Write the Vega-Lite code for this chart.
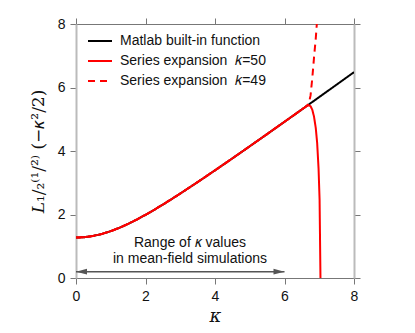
{
  "$schema": "https://vega.github.io/schema/vega-lite/v6.json",
  "width": 278,
  "height": 254,
  "autosize": {"type": "none"},
  "padding": {"left": 76, "top": 24, "right": 61, "bottom": 55},
  "background": "white",
  "config": {
    "view": {"stroke": null},
    "font": "Liberation Sans",
    "axis": {
      "labelFont": "Liberation Sans",
      "labelFontSize": 14,
      "labelColor": "#111",
      "tickColor": "#777",
      "tickSize": 6,
      "tickWidth": 1,
      "grid": false,
      "labelFlush": false
    },
    "axisX": {"domainColor": "#777", "domainWidth": 1},
    "axisY": {"domainColor": "#bbb", "domainWidth": 2},
    "legend": {
      "orient": "none",
      "legendX": 11,
      "legendY": 4,
      "symbolType": "stroke",
      "symbolSize": 576,
      "symbolStrokeWidth": 2,
      "labelFont": "Liberation Sans",
      "labelFontSize": 14,
      "labelColor": "#111",
      "labelOffset": 7,
      "labelLimit": 300,
      "rowPadding": 0,
      "padding": 0
    }
  },
  "datasets": {
    "curves": [
      {"kappa": 0, "value": 1.2732, "series": "Matlab built-in function"},
      {"kappa": 0.25, "value": 1.2865, "series": "Matlab built-in function"},
      {"kappa": 0.5, "value": 1.3256, "series": "Matlab built-in function"},
      {"kappa": 0.75, "value": 1.3894, "series": "Matlab built-in function"},
      {"kappa": 1, "value": 1.4755, "series": "Matlab built-in function"},
      {"kappa": 1.25, "value": 1.5815, "series": "Matlab built-in function"},
      {"kappa": 1.5, "value": 1.7045, "series": "Matlab built-in function"},
      {"kappa": 1.75, "value": 1.8415, "series": "Matlab built-in function"},
      {"kappa": 2, "value": 1.9901, "series": "Matlab built-in function"},
      {"kappa": 2.25, "value": 2.148, "series": "Matlab built-in function"},
      {"kappa": 2.5, "value": 2.3131, "series": "Matlab built-in function"},
      {"kappa": 2.75, "value": 2.4843, "series": "Matlab built-in function"},
      {"kappa": 3, "value": 2.6595, "series": "Matlab built-in function"},
      {"kappa": 3.5, "value": 3.0206, "series": "Matlab built-in function"},
      {"kappa": 4, "value": 3.391, "series": "Matlab built-in function"},
      {"kappa": 4.5, "value": 3.7678, "series": "Matlab built-in function"},
      {"kappa": 5, "value": 4.149, "series": "Matlab built-in function"},
      {"kappa": 5.5, "value": 4.5334, "series": "Matlab built-in function"},
      {"kappa": 6, "value": 4.9203, "series": "Matlab built-in function"},
      {"kappa": 6.5, "value": 5.309, "series": "Matlab built-in function"},
      {"kappa": 7, "value": 5.6992, "series": "Matlab built-in function"},
      {"kappa": 7.5, "value": 6.0905, "series": "Matlab built-in function"},
      {"kappa": 8, "value": 6.4828, "series": "Matlab built-in function"},

      {"kappa": 0, "value": 1.2732, "series": "Series expansion\u00a0\u00a0𝑘=50"},
      {"kappa": 0.25, "value": 1.2865, "series": "Series expansion\u00a0\u00a0𝑘=50"},
      {"kappa": 0.5, "value": 1.3256, "series": "Series expansion\u00a0\u00a0𝑘=50"},
      {"kappa": 0.75, "value": 1.3894, "series": "Series expansion\u00a0\u00a0𝑘=50"},
      {"kappa": 1, "value": 1.4755, "series": "Series expansion\u00a0\u00a0𝑘=50"},
      {"kappa": 1.25, "value": 1.5815, "series": "Series expansion\u00a0\u00a0𝑘=50"},
      {"kappa": 1.5, "value": 1.7045, "series": "Series expansion\u00a0\u00a0𝑘=50"},
      {"kappa": 1.75, "value": 1.8415, "series": "Series expansion\u00a0\u00a0𝑘=50"},
      {"kappa": 2, "value": 1.9901, "series": "Series expansion\u00a0\u00a0𝑘=50"},
      {"kappa": 2.25, "value": 2.148, "series": "Series expansion\u00a0\u00a0𝑘=50"},
      {"kappa": 2.5, "value": 2.3131, "series": "Series expansion\u00a0\u00a0𝑘=50"},
      {"kappa": 2.75, "value": 2.4843, "series": "Series expansion\u00a0\u00a0𝑘=50"},
      {"kappa": 3, "value": 2.6595, "series": "Series expansion\u00a0\u00a0𝑘=50"},
      {"kappa": 3.5, "value": 3.0206, "series": "Series expansion\u00a0\u00a0𝑘=50"},
      {"kappa": 4, "value": 3.391, "series": "Series expansion\u00a0\u00a0𝑘=50"},
      {"kappa": 4.5, "value": 3.7678, "series": "Series expansion\u00a0\u00a0𝑘=50"},
      {"kappa": 5, "value": 4.149, "series": "Series expansion\u00a0\u00a0𝑘=50"},
      {"kappa": 5.5, "value": 4.5334, "series": "Series expansion\u00a0\u00a0𝑘=50"},
      {"kappa": 6, "value": 4.9203, "series": "Series expansion\u00a0\u00a0𝑘=50"},
      {"kappa": 6.5, "value": 5.309, "series": "Series expansion\u00a0\u00a0𝑘=50"},
      {"kappa": 6.6, "value": 5.387, "series": "Series expansion\u00a0\u00a0𝑘=50"},
      {"kappa": 6.65, "value": 5.43, "series": "Series expansion\u00a0\u00a0𝑘=50"},
      {"kappa": 6.7, "value": 5.44, "series": "Series expansion\u00a0\u00a0𝑘=50"},
      {"kappa": 6.75, "value": 5.41, "series": "Series expansion\u00a0\u00a0𝑘=50"},
      {"kappa": 6.8, "value": 5.3, "series": "Series expansion\u00a0\u00a0𝑘=50"},
      {"kappa": 6.85, "value": 5.08, "series": "Series expansion\u00a0\u00a0𝑘=50"},
      {"kappa": 6.9, "value": 4.72, "series": "Series expansion\u00a0\u00a0𝑘=50"},
      {"kappa": 6.94, "value": 4.25, "series": "Series expansion\u00a0\u00a0𝑘=50"},
      {"kappa": 6.98, "value": 3.45, "series": "Series expansion\u00a0\u00a0𝑘=50"},
      {"kappa": 7.01, "value": 2.45, "series": "Series expansion\u00a0\u00a0𝑘=50"},
      {"kappa": 7.035, "value": 0, "series": "Series expansion\u00a0\u00a0𝑘=50"},

      {"kappa": 0, "value": 1.2732, "series": "Series expansion\u00a0\u00a0𝑘=49"},
      {"kappa": 0.25, "value": 1.2865, "series": "Series expansion\u00a0\u00a0𝑘=49"},
      {"kappa": 0.5, "value": 1.3256, "series": "Series expansion\u00a0\u00a0𝑘=49"},
      {"kappa": 0.75, "value": 1.3894, "series": "Series expansion\u00a0\u00a0𝑘=49"},
      {"kappa": 1, "value": 1.4755, "series": "Series expansion\u00a0\u00a0𝑘=49"},
      {"kappa": 1.25, "value": 1.5815, "series": "Series expansion\u00a0\u00a0𝑘=49"},
      {"kappa": 1.5, "value": 1.7045, "series": "Series expansion\u00a0\u00a0𝑘=49"},
      {"kappa": 1.75, "value": 1.8415, "series": "Series expansion\u00a0\u00a0𝑘=49"},
      {"kappa": 2, "value": 1.9901, "series": "Series expansion\u00a0\u00a0𝑘=49"},
      {"kappa": 2.25, "value": 2.148, "series": "Series expansion\u00a0\u00a0𝑘=49"},
      {"kappa": 2.5, "value": 2.3131, "series": "Series expansion\u00a0\u00a0𝑘=49"},
      {"kappa": 2.75, "value": 2.4843, "series": "Series expansion\u00a0\u00a0𝑘=49"},
      {"kappa": 3, "value": 2.6595, "series": "Series expansion\u00a0\u00a0𝑘=49"},
      {"kappa": 3.5, "value": 3.0206, "series": "Series expansion\u00a0\u00a0𝑘=49"},
      {"kappa": 4, "value": 3.391, "series": "Series expansion\u00a0\u00a0𝑘=49"},
      {"kappa": 4.5, "value": 3.7678, "series": "Series expansion\u00a0\u00a0𝑘=49"},
      {"kappa": 5, "value": 4.149, "series": "Series expansion\u00a0\u00a0𝑘=49"},
      {"kappa": 5.5, "value": 4.5334, "series": "Series expansion\u00a0\u00a0𝑘=49"},
      {"kappa": 6, "value": 4.9203, "series": "Series expansion\u00a0\u00a0𝑘=49"},
      {"kappa": 6.5, "value": 5.309, "series": "Series expansion\u00a0\u00a0𝑘=49"},
      {"kappa": 6.6, "value": 5.387, "series": "Series expansion\u00a0\u00a0𝑘=49"},
      {"kappa": 6.65, "value": 5.43, "series": "Series expansion\u00a0\u00a0𝑘=49"},
      {"kappa": 6.7, "value": 5.5, "series": "Series expansion\u00a0\u00a0𝑘=49"},
      {"kappa": 6.75, "value": 5.75, "series": "Series expansion\u00a0\u00a0𝑘=49"},
      {"kappa": 6.8, "value": 6.3, "series": "Series expansion\u00a0\u00a0𝑘=49"},
      {"kappa": 6.85, "value": 6.95, "series": "Series expansion\u00a0\u00a0𝑘=49"},
      {"kappa": 6.9, "value": 7.55, "series": "Series expansion\u00a0\u00a0𝑘=49"},
      {"kappa": 6.93, "value": 8.0, "series": "Series expansion\u00a0\u00a0𝑘=49"}
    ],
    "notes": [
      {"kappa": 3.28, "value": 0.98, "text": "Range of 𝜅 values"},
      {"kappa": 3.28, "value": 0.46, "text": "in mean-field simulations"}
    ],
    "arrow": [
      {"start": 0, "end": 6, "value": 0.2}
    ],
    "heads": [
      {"kappa": 0, "value": 0.2, "dir": "left"},
      {"kappa": 6, "value": 0.2, "dir": "right"}
    ]
  },
  "encoding": {
    "x": {"field": "kappa", "type": "quantitative", "scale": {"domain": [0, 8], "nice": false, "zero": false}},
    "y": {"field": "value", "type": "quantitative", "scale": {"domain": [0, 8], "nice": false, "zero": false}}
  },
  "layer": [
    {
      "data": {"name": "curves"},
      "transform": [{"filter": "datum.series === 'Matlab built-in function'"}],
      "mark": {"type": "line", "strokeWidth": 2, "clip": true},
      "encoding": {
        "x": {"field": "kappa", "type": "quantitative", "axis": {"orient": "bottom", "values": [0, 2, 4, 6, 8], "title": "κ", "titleFont": "DejaVu Serif", "titleFontStyle": "italic", "titleFontWeight": "normal", "titleFontSize": 18, "titleColor": "#111", "titlePadding": 4, "labelPadding": 5}},
        "y": {"field": "value", "type": "quantitative", "axis": {"orient": "left", "values": [0, 2, 4, 6, 8], "title": "𝐿₁/₂⁽¹/²⁾ (−𝜅²/2)", "titleFont": "DejaVu Serif", "titleFontWeight": "normal", "titleFontSize": 17, "titleColor": "#111", "titlePadding": 10, "labelPadding": 5}},
        "color": {"field": "series", "type": "nominal", "scale": {"domain": ["Matlab built-in function", "Series expansion\u00a0\u00a0𝑘=50", "Series expansion\u00a0\u00a0𝑘=49"], "range": ["#000000", "#ff0000", "#ff0000"]}, "legend": {"title": null}},
        "strokeDash": {"field": "series", "type": "nominal", "scale": {"domain": ["Matlab built-in function", "Series expansion\u00a0\u00a0𝑘=50", "Series expansion\u00a0\u00a0𝑘=49"], "range": [[1, 0], [1, 0], [7, 5]]}, "legend": {"title": null}}
      }
    },
    {
      "data": {"name": "curves"},
      "transform": [{"filter": "datum.series === 'Series expansion\u00a0\u00a0𝑘=49'"}],
      "mark": {"type": "line", "strokeWidth": 2, "clip": true},
      "encoding": {
        "x": {"field": "kappa", "type": "quantitative", "axis": {"orient": "top", "values": [0, 2, 4, 6, 8], "labels": false, "title": null}},
        "y": {"field": "value", "type": "quantitative", "axis": {"orient": "right", "values": [0, 2, 4, 6, 8], "labels": false, "title": null}},
        "color": {"field": "series", "type": "nominal", "scale": {"domain": ["Matlab built-in function", "Series expansion\u00a0\u00a0𝑘=50", "Series expansion\u00a0\u00a0𝑘=49"], "range": ["#000000", "#ff0000", "#ff0000"]}, "legend": {"title": null}},
        "strokeDash": {"field": "series", "type": "nominal", "scale": {"domain": ["Matlab built-in function", "Series expansion\u00a0\u00a0𝑘=50", "Series expansion\u00a0\u00a0𝑘=49"], "range": [[1, 0], [1, 0], [7, 5]]}, "legend": {"title": null}}
      }
    },
    {
      "data": {"name": "curves"},
      "transform": [{"filter": "datum.series === 'Series expansion\u00a0\u00a0𝑘=50'"}],
      "mark": {"type": "line", "strokeWidth": 2, "clip": true},
      "encoding": {
        "x": {"field": "kappa", "type": "quantitative", "axis": null},
        "y": {"field": "value", "type": "quantitative", "axis": null},
        "color": {"field": "series", "type": "nominal", "scale": {"domain": ["Matlab built-in function", "Series expansion\u00a0\u00a0𝑘=50", "Series expansion\u00a0\u00a0𝑘=49"], "range": ["#000000", "#ff0000", "#ff0000"]}, "legend": {"title": null}},
        "strokeDash": {"field": "series", "type": "nominal", "scale": {"domain": ["Matlab built-in function", "Series expansion\u00a0\u00a0𝑘=50", "Series expansion\u00a0\u00a0𝑘=49"], "range": [[1, 0], [1, 0], [7, 5]]}, "legend": {"title": null}}
      }
    },
    {
      "data": {"name": "arrow"},
      "mark": {"type": "rule", "color": "#555", "strokeWidth": 1.5},
      "encoding": {
        "x": {"field": "start", "type": "quantitative", "axis": null},
        "x2": {"field": "end"},
        "y": {"field": "value", "type": "quantitative", "axis": null}
      }
    },
    {
      "data": {"name": "heads"},
      "transform": [{"filter": "datum.dir === 'left'"}],
      "mark": {"type": "point", "shape": "M0,0 L1,-0.26 L1,0.26 Z", "filled": true, "color": "#555", "size": 484, "opacity": 1},
      "encoding": {
        "x": {"field": "kappa", "type": "quantitative", "axis": null},
        "y": {"field": "value", "type": "quantitative", "axis": null}
      }
    },
    {
      "data": {"name": "heads"},
      "transform": [{"filter": "datum.dir === 'right'"}],
      "mark": {"type": "point", "shape": "M0,0 L-1,-0.26 L-1,0.26 Z", "filled": true, "color": "#555", "size": 484, "opacity": 1},
      "encoding": {
        "x": {"field": "kappa", "type": "quantitative", "axis": null},
        "y": {"field": "value", "type": "quantitative", "axis": null}
      }
    },
    {
      "data": {"name": "notes"},
      "mark": {"type": "text", "align": "center", "baseline": "alphabetic", "fontSize": 14, "font": "Liberation Sans", "color": "#111"},
      "encoding": {
        "x": {"field": "kappa", "type": "quantitative", "axis": null},
        "y": {"field": "value", "type": "quantitative", "axis": null},
        "text": {"field": "text"}
      }
    }
  ],
  "resolve": {"axis": {"x": "independent", "y": "independent"}}
}
